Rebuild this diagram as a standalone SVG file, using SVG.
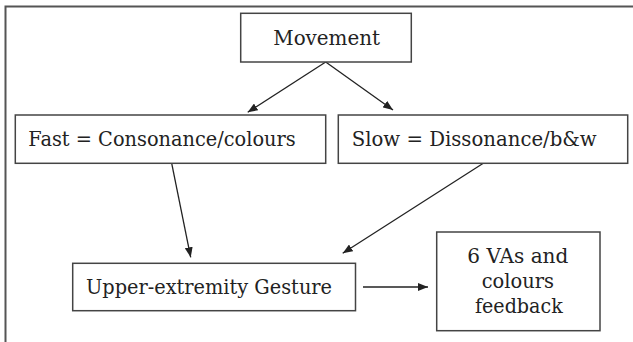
<svg xmlns="http://www.w3.org/2000/svg" width="633" height="342" viewBox="0 0 633 342">
<defs>
<marker id="ah" markerWidth="10" markerHeight="8" refX="10" refY="4" orient="auto" markerUnits="userSpaceOnUse">
<path d="M0,0 L10,4 L0,8 Z" fill="#222"/>
</marker>
<style>
.box{fill:#fff;stroke:#444;stroke-width:1.5}
.t{font-family:'DejaVu Serif',serif;font-size:20px;fill:#222}
.c{stroke:#222;stroke-width:1.3;fill:none;marker-end:url(#ah)}
</style>
</defs>
<rect width="633" height="342" fill="#fff"/>
<path d="M5.5,342 V6.5 H633" fill="none" stroke="#555" stroke-width="2"/>
<g id="connectors">
<line class="c" x1="325.7" y1="62" x2="247.7" y2="112.3"/>
<line class="c" x1="325.7" y1="62" x2="393" y2="110"/>
<line class="c" x1="171.7" y1="163.3" x2="190.7" y2="257.3"/>
<line class="c" x1="483.3" y1="163.3" x2="342.7" y2="253.3"/>
<line class="c" x1="363" y1="287" x2="428" y2="287"/>
</g>
<g id="movement">
<rect class="box" x="240.7" y="13.3" width="170.6" height="48.7"/>
<text class="t" x="273.3" y="45" textLength="106.7" lengthAdjust="spacingAndGlyphs">Movement</text>
</g>
<g id="fast">
<rect class="box" x="15.3" y="115" width="310.4" height="48.3"/>
<text class="t" x="28.3" y="145.7" textLength="267.4" lengthAdjust="spacingAndGlyphs">Fast = Consonance/colours</text>
</g>
<g id="slow">
<rect class="box" x="338.3" y="115" width="289.4" height="48.3"/>
<text class="t" x="351.7" y="145.7" textLength="245" lengthAdjust="spacingAndGlyphs">Slow = Dissonance/b&amp;w</text>
</g>
<g id="gesture">
<rect class="box" x="72.7" y="263.3" width="282.8" height="47.4"/>
<text class="t" x="86" y="294" textLength="246" lengthAdjust="spacingAndGlyphs">Upper-extremity Gesture</text>
</g>
<g id="feedback">
<rect class="box" x="436.7" y="232" width="163.3" height="98.7"/>
<text class="t" x="467.3" y="263" textLength="101" lengthAdjust="spacingAndGlyphs">6 VAs and</text>
<text class="t" x="481.7" y="288" textLength="72.3" lengthAdjust="spacingAndGlyphs">colours</text>
<text class="t" x="475" y="313" textLength="87.7" lengthAdjust="spacingAndGlyphs">feedback</text>
</g>
</svg>
